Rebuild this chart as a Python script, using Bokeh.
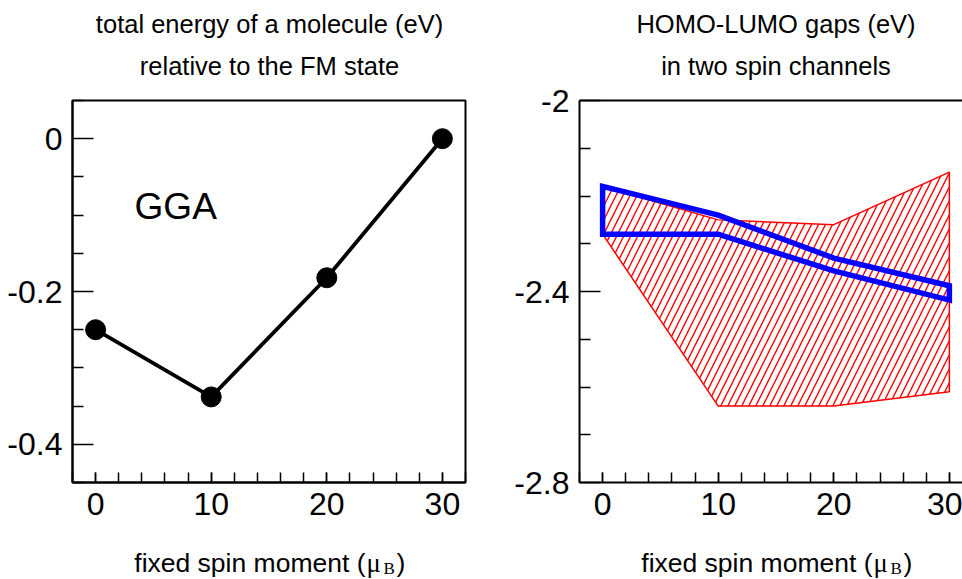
from bokeh.plotting import figure
from bokeh.models import FixedTicker, LinearAxis, Range1d
from bokeh.layouts import row, column
from bokeh.core.properties import value
from bokeh.embed import file_html
from bokeh.resources import INLINE

# ---------------- data ----------------
moment = [0, 10, 20, 30]
energy = [-0.25, -0.338, -0.182, 0.0]

gap_moment = [0, 10, 20, 30]
red_upper = [-2.18, -2.25, -2.26, -2.15]
red_lower = [-2.28, -2.64, -2.64, -2.61]
blue_upper = [-2.18, -2.24, -2.33, -2.388]
blue_lower = [-2.28, -2.28, -2.357, -2.418]

x_ticks = [0, 10, 20, 30]
x_tick_labels = ["0", "10", "20", "30"]
left_y_ticks = [-0.4, -0.2, 0.0]
left_y_labels = ["-0.4", "-0.2", "0"]
right_y_ticks = [-2.8, -2.4, -2.0]
right_y_labels = ["-2.8", "-2.4", "-2"]

left_title = ["total energy of a molecule (eV)", "relative to the FM state"]
right_title = ["HOMO-LUMO gaps (eV)", "in two spin channels"]
x_label = ["fixed spin moment (", "\u03bc", "B", ")"]

SANS = "Liberation Sans"
SERIF = "Liberation Serif"
TICK_FS = "32px"
W = 962
TOP_H = 80
BOT_H = 57


def style_axes(p, yticks, ylabels, yminor):
    p.grid.visible = False
    p.background_fill_color = "white"
    p.border_fill_color = "white"
    xa = p.xaxis[0]
    xa.ticker = FixedTicker(ticks=x_ticks, minor_ticks=list(range(-2, 33, 2)))
    xa.major_label_overrides = dict(zip(x_ticks, x_tick_labels))
    ya = p.yaxis[0]
    ya.ticker = FixedTicker(ticks=yticks, minor_ticks=yminor)
    ya.major_label_overrides = dict(zip(yticks, ylabels))
    for ax in (xa, ya):
        ax.axis_line_width = 2
        ax.axis_line_color = "black"
        ax.major_tick_line_width = 1.5
        ax.minor_tick_line_width = 1.5
        ax.major_tick_line_color = "black"
        ax.minor_tick_line_color = "black"
        ax.major_tick_out = 0
        ax.minor_tick_out = 0
        ax.major_label_text_font = SANS
        ax.major_label_text_font_size = TICK_FS
        ax.major_label_text_color = "black"
        ax.major_label_standoff = 10
    xa.major_tick_in = 10
    xa.minor_tick_in = 10
    ya.major_tick_in = 21
    ya.minor_tick_in = 11


def strip(height):
    s = figure(width=W, height=height, x_range=Range1d(0, W),
               y_range=Range1d(height, 0), min_border=0,
               x_axis_location=None, y_axis_location=None,
               output_backend="svg", toolbar_location=None)
    s.grid.visible = False
    s.outline_line_color = None
    return s


# ---------------- left panel ----------------
p1 = figure(frame_width=393, frame_height=382,
            min_border_left=72, min_border_right=15,
            min_border_top=20, min_border_bottom=40,
            x_range=Range1d(-2, 32), y_range=Range1d(-0.45, 0.05),
            output_backend="svg", toolbar_location=None)
style_axes(p1, left_y_ticks, left_y_labels,
           [-0.45, -0.35, -0.3, -0.25, -0.15, -0.1, -0.05, 0.05])
p1.outline_line_color = "black"
p1.outline_line_width = 2
p1.outline_line_alpha = 1.0

p1.line(moment, energy, line_color="black", line_width=3.8)
p1.scatter(moment, energy, size=20, fill_color="black", line_color="black")
p1.text(x=[3.37], y=[-0.089], text=["GGA"], text_font=value(SANS),
        text_font_size="37px", text_align="left", text_baseline="alphabetic",
        text_color="black")

# ---------------- right panel ----------------
p2 = figure(frame_width=383, frame_height=382,
            min_border_left=99, min_border_right=0,
            min_border_top=20, min_border_bottom=40,
            x_range=Range1d(-2, -2 + 383 * 34 / 393), y_range=Range1d(-2.8, -2.0),
            output_backend="svg", toolbar_location=None)
style_axes(p2, right_y_ticks, right_y_labels,
           [-2.7, -2.6, -2.5, -2.3, -2.2, -2.1])
p2.outline_line_color = None
top = LinearAxis(ticker=FixedTicker(ticks=[]), axis_line_width=2,
                 axis_line_color="black", major_label_text_font_size="0px",
                 major_tick_in=0, major_tick_out=0, minor_tick_in=0, minor_tick_out=0)
p2.add_layout(top, "above")

red_x = gap_moment + gap_moment[::-1]
red_y = red_upper + red_lower[::-1]
p2.patch(red_x, red_y, fill_alpha=0, line_color="red", line_width=1.5,
         hatch_pattern="/", hatch_color="red", hatch_scale=14, hatch_weight=1.4)

blue_x = gap_moment + gap_moment[::-1]
blue_y = blue_upper + blue_lower[::-1]
p2.patch(blue_x, blue_y, fill_alpha=0, line_color="blue", line_width=5.5,
         line_join="miter")

# ---------------- title strip ----------------
ts = strip(TOP_H)
title_cx = [269, 775.5]
for cx, lines in zip(title_cx, (left_title, right_title)):
    ts.text(x=[cx, cx], y=[23, 65], text=lines, text_font=value(SANS),
            text_font_size="25.5px", text_align="center",
            text_baseline="alphabetic", text_color="black")

# ---------------- x-label strip ----------------
bs = strip(BOT_H)
for x0 in (72, 579):
    bs.text(x=[x0 + 293], y=[40], text=[x_label[0]], text_font=value(SANS),
            text_font_size="26.5px", text_align="right",
            text_baseline="alphabetic", text_color="black")
    bs.text(x=[x0 + 294], y=[40], text=[x_label[1]], text_font=value(SERIF),
            text_font_size="26.5px", text_align="left",
            text_baseline="alphabetic", text_color="black")
    bs.text(x=[x0 + 311], y=[46], text=[x_label[2]], text_font=value(SERIF),
            text_font_size="17px", text_align="left",
            text_baseline="alphabetic", text_color="black")
    bs.text(x=[x0 + 324], y=[40], text=[x_label[3]], text_font=value(SANS),
            text_font_size="26.5px", text_align="left",
            text_baseline="alphabetic", text_color="black")

layout = column(ts, row(p1, p2), bs)
open("out.html", "w").write(file_html(layout, INLINE))
